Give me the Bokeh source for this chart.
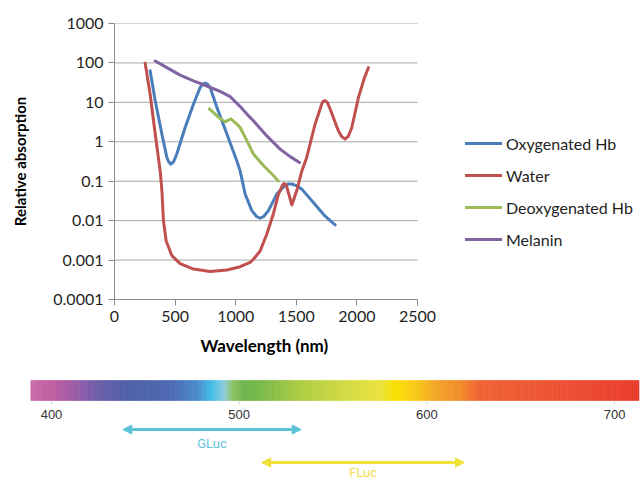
import numpy as np
from bokeh.plotting import figure
from bokeh.models import (Range1d, FixedTicker, CustomJSTickFormatter, Legend,
                          LegendItem, Arrow, NormalHead, Title)
from bokeh.core.properties import value
from bokeh.embed import file_html
from bokeh.resources import INLINE

# ---------------- data ----------------
x_ticks = [0, 500, 1000, 1500, 2000, 2500]
y_ticks = [0.0001, 0.001, 0.01, 0.1, 1, 10, 100, 1000]

oxy_nm = [294, 336, 391, 432, 445, 465, 487, 514, 583, 652, 707, 729, 748, 767, 789,
          845, 927, 1009, 1037, 1078, 1133, 1174, 1202, 1229, 1270, 1339, 1408, 1435,
          1463, 1504, 1545, 1641, 1738, 1820]
oxy_val = [63, 11, 1.57, 0.40, 0.32, 0.27, 0.31, 0.49, 2.3, 9.1, 24, 29, 31, 29, 24,
           7.4, 1.57, 0.33, 0.18, 0.047, 0.018, 0.0126, 0.0115, 0.0126, 0.018, 0.047,
           0.079, 0.085, 0.085, 0.076, 0.063, 0.029, 0.013, 0.0078]

water_nm = [253, 294, 336, 377, 391, 404, 426, 473, 542, 652, 789, 927, 1037, 1119,
            1146, 1202, 1257, 1311, 1353, 1388, 1399, 1416, 1435, 1463, 1504, 1545,
            1586, 1655, 1710, 1723, 1738, 1756, 1779, 1847, 1875, 1902, 1930, 1958,
            2012, 2059, 2095]
water_val = [98, 16, 1.57, 0.18, 0.058, 0.010, 0.0031, 0.0013, 0.00081, 0.00059,
             0.00051, 0.00056, 0.00068, 0.00087, 0.00105, 0.0017, 0.0046, 0.015,
             0.047, 0.081, 0.087, 0.081, 0.051, 0.025, 0.058, 0.18, 0.40, 2.8, 9.1,
             10.7, 11, 10, 6.8, 1.9, 1.35, 1.17, 1.4, 2.3, 13, 39, 76]

deoxy_nm = [783, 858, 913, 960, 1009, 1037, 1092, 1146, 1229, 1311, 1353]
deoxy_val = [6.8, 4.2, 3.2, 3.8, 2.8, 2.3, 1.07, 0.49, 0.25, 0.14, 0.10]

mel_nm = [336, 432, 542, 652, 762, 872, 954, 1037, 1105, 1146, 1257, 1366, 1449, 1526]
mel_val = [112, 76, 49, 35, 26, 19, 14, 7.8, 4.6, 3.4, 1.41, 0.65, 0.42, 0.30]

series_names = ["Oxygenated Hb", "Water", "Deoxygenated Hb", "Melanin"]
series_colors = ["#4A7EBB", "#C0504D", "#9BBB59", "#8064A2"]

spec_ticks = [400, 500, 600, 700]
spec_labels = ["400", "500", "600", "700"]
spec_start, spec_end = 389, 713
stop_nm = [389, 400, 412, 425, 440, 465, 478, 485, 492, 497, 503, 512, 530, 555,
           575, 583, 592, 605, 618, 628, 665, 713]
stop_col = ["#C86BA9", "#C25DA0", "#9C5AA6", "#6A5CA8", "#4E5EA8", "#4A69B3",
            "#4A8ACB", "#3EBDE8", "#8BCCDC", "#8AC460", "#6DB54A", "#78B94A",
            "#A8CA42", "#D0DA40", "#E8E23C", "#F8E000", "#F8CE12", "#F4A425",
            "#F28A28", "#F06232", "#EE5232", "#EA3A2C"]
gluc_range = [438, 533]
fluc_range = [512, 620]

FONT = "Lato"
TXT = "#1F1F1F"
GRAY = "#8C8C8C"

# ---------------- main chart ----------------
# the frame runs to the right edge so the legend can sit inside it;
# axis and grid lines are bounded to 0..2500
W = 643
LEFT = 114
x_end = x_ticks[-1] * (W - LEFT) / 303.0
p = figure(width=W, height=368, x_range=Range1d(0, x_end),
           y_range=Range1d(1e-4, 1e3), y_axis_type="log",
           output_backend="svg", toolbar_location=None,
           min_border_left=LEFT, min_border_right=0,
           min_border_top=23, min_border_bottom=69)
p.outline_line_color = None
p.xgrid.visible = False
p.ygrid.visible = False

p.segment(x0=[x_ticks[0]] * len(y_ticks), x1=[x_ticks[-1]] * len(y_ticks),
          y0=y_ticks, y1=y_ticks, line_color="#A8A8A8", line_width=1)

p.xaxis.ticker = FixedTicker(ticks=x_ticks)
p.xaxis.bounds = (x_ticks[0], x_ticks[-1])
p.yaxis.ticker = FixedTicker(ticks=y_ticks)
p.yaxis.formatter = CustomJSTickFormatter(
    code="return tick >= 1 ? tick.toFixed(0) : String(+tick.toPrecision(1));")

for ax in (p.xaxis[0], p.yaxis[0]):
    ax.axis_line_color = GRAY
    ax.major_tick_line_color = GRAY
    ax.minor_tick_line_color = None
    ax.major_tick_in = 0
    ax.major_tick_out = 6
    ax.major_label_text_font = FONT
    ax.major_label_text_font_size = "16px"
    ax.major_label_text_color = TXT
    ax.axis_label_text_font = FONT
    ax.axis_label_text_font_style = "bold"
    ax.axis_label_text_color = "#000000"

p.xaxis.major_label_standoff = 5
p.yaxis.axis_label = "Relative absorption"
p.yaxis.axis_label_text_font_size = "15px"
p.yaxis.major_label_standoff = 5
p.yaxis.axis_label_standoff = 21

xt = Title(text="Wavelength (nm)", align="left", offset=86, standoff=17,
           text_font=FONT, text_font_style="bold", text_font_size="17px",
           text_color="#000000")
p.add_layout(xt, "below")

renderers = []
for xs, ys, c in zip([oxy_nm, water_nm, deoxy_nm, mel_nm],
                     [oxy_val, water_val, deoxy_val, mel_val], series_colors):
    r = p.line(xs, ys, line_color=c, line_width=3, line_join="round", line_cap="round")
    renderers.append(r)

legend = Legend(items=[LegendItem(label=n, renderers=[r]) for n, r in zip(series_names, renderers)],
                location=(351, 50), orientation="vertical",
                glyph_width=37, glyph_height=20, label_height=20, spacing=12,
                padding=0, margin=0, label_standoff=4,
                border_line_color=None, background_fill_alpha=0,
                label_text_font=FONT, label_text_font_size="16px",
                label_text_color=TXT)
p.add_layout(legend)

# ---------------- spectrum strip ----------------
# page pixel = 1.877 * nm - 699.8
s = figure(width=W, height=113, x_range=Range1d(699.8 / 1.877, (W + 699.8) / 1.877),
           y_range=Range1d(481, 368), output_backend="svg",
           toolbar_location=None, min_border=0,
           x_axis_type=None, y_axis_type=None)
s.outline_line_color = None
for g in s.grid:
    g.visible = False


def hex2rgb(h):
    return [int(h[i:i + 2], 16) for i in (1, 3, 5)]


rgb = np.array([hex2rgb(c) for c in stop_col], dtype=float)
bins = np.arange(spec_start, spec_end, 1.0)
cols = []
for b in bins + 0.5:
    cr = [int(round(np.interp(b, stop_nm, rgb[:, k]))) for k in range(3)]
    cols.append("#%02x%02x%02x" % tuple(cr))
s.quad(left=bins, right=bins + 1, top=380, bottom=400,
       fill_color=cols, line_color=cols, line_width=0.6)

s.segment(x0=spec_ticks, x1=spec_ticks, y0=401, y1=404, line_color="#CFCFCF", line_width=1)
s.text(x=spec_ticks, y=[414] * len(spec_ticks), text=spec_labels,
       text_font=value("Liberation Sans"), text_font_size="13px",
       text_color="#333333", text_align="center", text_baseline="middle")

gcol = "#5CC2D8"
fcol = "#F0E23A"
s.add_layout(Arrow(x_start=gluc_range[0], x_end=gluc_range[1], y_start=429, y_end=429,
                   line_color=gcol, line_width=3,
                   start=NormalHead(size=9, fill_color=gcol, line_color=gcol),
                   end=NormalHead(size=9, fill_color=gcol, line_color=gcol)))
s.add_layout(Arrow(x_start=fluc_range[0], x_end=fluc_range[1], y_start=462, y_end=462,
                   line_color=fcol, line_width=3,
                   start=NormalHead(size=9, fill_color=fcol, line_color=fcol),
                   end=NormalHead(size=9, fill_color=fcol, line_color=fcol)))
s.text(x=[sum(gluc_range) / 2], y=[443], text=["GLuc"], text_font=value("Roboto"),
       text_font_size="13px", text_color="#62C4DC", text_align="center",
       text_baseline="middle")
s.text(x=[sum(fluc_range) / 2], y=[472], text=["FLuc"], text_font=value("Roboto"),
       text_font_size="13px", text_color="#F0E04C", text_align="center",
       text_baseline="middle")

open("out.html", "w").write(file_html([p, s], INLINE))
